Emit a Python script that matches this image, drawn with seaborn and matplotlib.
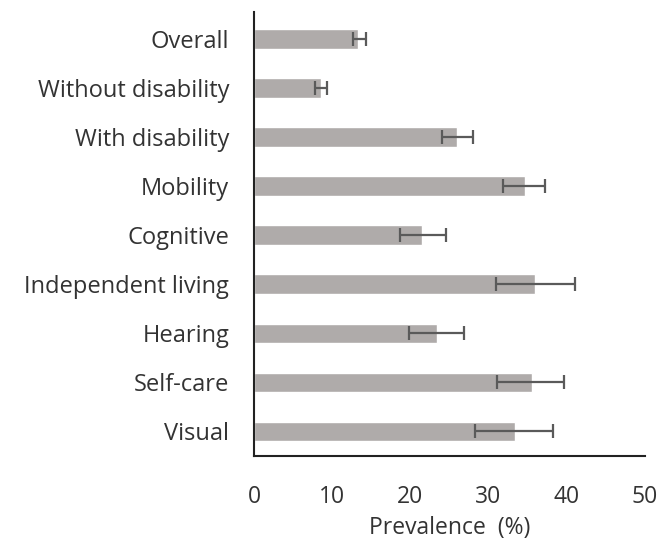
import pandas as pd
import matplotlib.pyplot as plt
import seaborn as sns

# Prevalence (%) with 95% CI
groups = ["Overall", "Without disability", "With disability", "Mobility", "Cognitive",
          "Independent living", "Hearing", "Self-care", "Visual"]
prevalence = [13.3, 8.6, 26.0, 34.7, 21.5, 36.0, 23.4, 35.5, 33.4]
ci_low = [12.6, 7.8, 24.0, 31.9, 18.7, 30.9, 19.8, 31.1, 28.3]
ci_high = [14.3, 9.3, 28.0, 37.2, 24.5, 41.1, 26.9, 39.6, 38.2]

df = pd.DataFrame({"Group": groups, "Prevalence": prevalence})

sns.set_style("white")
plt.rcParams['font.family'] = ['Open Sans', 'DejaVu Sans']

fig = plt.figure(figsize=(6.62, 5.48), dpi=100)
ax = fig.add_axes([0.384, 0.168, 0.59, 0.81])

sns.barplot(x="Prevalence", y="Group", data=df, orient="h", color="#afabaa",
            width=0.4, ax=ax, saturation=1)

lo = [p - l for p, l in zip(prevalence, ci_low)]
hi = [h - p for p, h in zip(prevalence, ci_high)]
ax.errorbar(prevalence, range(len(groups)), xerr=[lo, hi], fmt="none",
            ecolor="#5a5a5a", elinewidth=1.6, capsize=5, capthick=1.6)

ax.set_xlim(0, 50)
ax.set_ylim(len(groups) - 0.5, -0.55)
ax.set_xticks([0, 10, 20, 30, 40, 50])
ax.tick_params(axis="both", length=0, colors="#333333")
ax.tick_params(axis="y", pad=18, labelsize=17)
ax.tick_params(axis="x", pad=21, labelsize=16.5)
ax.set_ylabel("")
ax.set_xlabel("Prevalence  (%)", fontsize=16.5, color="#333333", labelpad=5)

sns.despine(ax=ax)
for s in ["left", "bottom"]:
    ax.spines[s].set_color("#222222")
    ax.spines[s].set_linewidth(1.5)

plt.savefig("out.png", dpi=100)
